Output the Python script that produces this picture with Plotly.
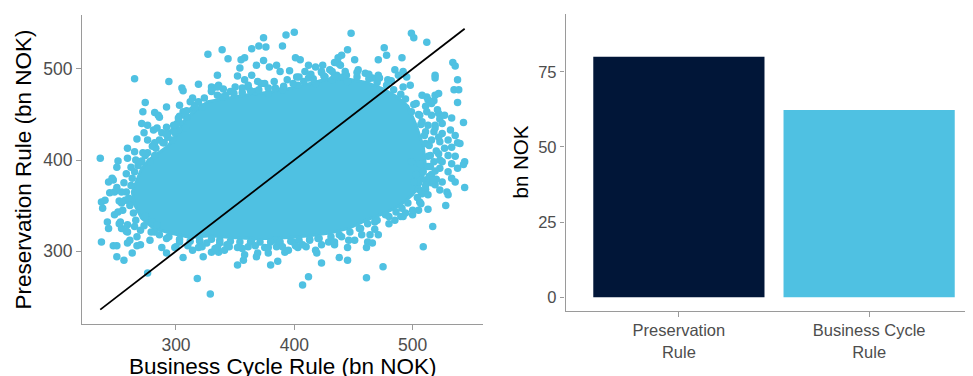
import plotly.graph_objects as go

# ---- Left panel: simulated fund values (bn NOK) ----
# individual points visible outside / at the edge of the dense cloud
business_cycle = [
236, 251, 265, 294, 305, 306, 319, 327, 339, 344, 364, 370, 376, 374, 390, 393, 400, 355, 358, 368,
374, 401, 405, 379, 385, 388, 396, 402, 412, 418, 424, 437, 440, 434, 437, 439, 352, 354, 335, 336,
364, 358, 361, 369, 375, 346, 356, 367, 378, 390, 403, 418, 432, 445, 339, 412, 426, 436, 441, 409,
423, 430,
448, 445, 451, 471, 476, 478, 491, 499, 501, 512, 519, 519, 534, 536, 538, 535, 539, 538, 543, 538,
533, 544, 466, 471, 479, 485, 488, 492, 495, 460, 454, 498, 512, 519,
508, 513, 522, 516, 511, 503, 499, 506, 512, 516, 522, 527, 533, 525, 519, 513, 508, 511, 518, 525,
532, 536, 530, 523, 516, 511, 527, 540, 530, 522, 515, 536, 525, 518, 533,
544, 543, 538, 533, 536, 529, 530, 528, 517, 509, 513, 506, 505, 511, 519, 523, 525, 516, 505, 500,
494, 485, 477, 468, 471, 464, 462, 466, 461, 451, 445, 445, 475, 461, 456, 499, 506, 513, 523, 530,
509, 503, 516, 520, 501, 511, 508,
407, 412, 423, 438, 380, 386, 352, 357, 358, 368, 369, 375, 378, 392, 395, 403, 407, 419, 418, 429,
434, 440, 336, 341, 343, 337, 352, 361, 364, 385, 384, 399, 413, 420,
237, 247, 250, 250, 256, 259, 263, 267, 270, 276, 267, 278, 288, 292, 299, 306, 318, 329, 314, 319,
323, 330, 335, 242, 243, 238, 237, 240, 244, 248, 247, 246, 243, 250, 254, 257, 261, 251, 253, 254,
259, 259, 265, 270, 261, 274, 280, 284, 282, 292, 303, 320, 326,
274, 272, 292, 282, 285, 286, 303, 306, 314, 312, 271, 276, 273, 276, 267, 259, 265, 259, 281, 284,
288, 292, 293, 282, 289, 297, 299, 276, 282, 271, 278, 303, 308, 302, 322, 314, 309, 330, 330, 331,
335,
# ragged edge of the solid core
263, 268, 274, 283, 290, 298, 303, 316, 324, 335, 349, 363, 378, 391, 408, 425, 444, 463, 478, 490,
501, 507, 514, 515, 511, 504, 491, 480, 462, 447, 431, 413, 397, 380, 363, 346, 330, 312, 294, 279,
266, 261, 258,
265, 271, 293, 301, 309, 319, 342, 356, 370, 384, 399, 416, 434, 453, 470, 484, 494, 505, 510, 513,
514, 507, 496, 486, 470, 455, 438, 421, 404, 388, 371, 354, 337, 320, 303, 286, 273, 264, 260, 262,
# second, looser band around the core
330, 340, 350, 361, 372, 383, 394, 404, 414, 423, 432, 443, 453, 463, 472, 482, 492,
518, 521, 523, 519, 522, 520, 523, 519, 517, 513, 507, 500, 492,
300, 310, 322, 333, 345, 356, 367, 378, 390, 401, 410, 423, 434, 446, 457, 468, 480, 490,
266, 272, 280, 286, 292, 298, 302, 308, 316,
255, 252, 254, 256, 258, 262, 250, 248, 252, 258,
]
preservation = [
402, 399, 489, 486, 479, 476, 483, 516, 521, 511, 522, 525, 524, 534, 525, 537, 540, 510, 512, 504,
509, 512, 510, 502, 504, 497, 498, 491, 504, 502, 504, 512, 515, 507, 506, 504, 492, 501, 493, 482,
493, 488, 480, 486, 484, 475, 479, 475, 473, 477, 482, 484, 488, 486, 469, 490, 491, 493, 491, 497,
497, 499,
539, 521, 510, 510, 523, 515, 512, 539, 534, 529, 493, 490, 507, 503, 488, 477, 477, 463, 441, 419,
414, 398, 490, 493, 488, 499, 493, 497, 491, 495, 499, 482, 469, 471,
471, 466, 473, 462, 459, 462, 453, 449, 453, 449, 451, 449, 446, 440, 438, 438, 442, 431, 431, 429,
433, 427, 422, 420, 422, 418, 413, 418, 405, 407, 405, 404, 398, 398, 396,
370, 395, 391, 380, 376, 365, 362, 350, 327, 305, 346, 354, 368, 368, 373, 367, 376, 375, 345, 340,
342, 334, 340, 332, 318, 318, 310, 309, 304, 312, 304, 290, 283, 271, 325, 398, 396, 393, 391, 387,
387, 384, 384, 379, 376, 378, 363,
263, 272, 287, 293, 285, 289, 285, 290, 296, 294, 298, 304, 298, 299, 301, 304, 307, 298, 301, 310,
307, 316, 299, 301, 307, 309, 304, 305, 312, 305, 312, 310, 312, 314,
310, 306, 306, 294, 290, 309, 298, 306, 307, 276, 316, 312, 304, 298, 304, 293, 270, 253, 301, 304,
294, 299, 304, 332, 325, 347, 354, 356, 364, 365, 378, 380, 376, 392, 353, 356, 354, 343, 332, 325,
321, 329, 327, 323, 312, 338, 332, 329, 321, 314, 310, 311, 309,
463, 453, 458, 452, 449, 447, 460, 453, 468, 464, 440, 438, 430, 422, 423, 413, 409, 402, 433, 435,
430, 436, 430, 419, 419, 422, 430, 408, 405, 398, 398, 441, 435, 433, 458, 455, 447, 480, 475, 479,
480,
380, 394, 405, 413, 419, 432, 448, 460, 468, 471, 473, 476, 479, 481, 486, 492, 493, 489, 482, 472,
461, 439, 416, 393, 372, 359, 347, 338, 330, 321, 316, 313, 311, 310, 310, 311, 313, 311, 316, 321,
334, 350, 365,
387, 399, 425, 440, 454, 464, 471, 474, 477, 479, 484, 489, 492, 491, 485, 477, 467, 450, 427, 404,
382, 366, 353, 343, 334, 325, 318, 314, 312, 310, 310, 310, 312, 312, 313, 318, 328, 342, 358, 372,
476, 478, 480, 482, 484, 486, 488, 491, 494, 496, 497, 497, 496, 494, 490, 487, 480,
465, 455, 445, 435, 425, 410, 400, 388, 378, 362, 352, 345, 338,
305, 306, 305, 303, 305, 303, 306, 304, 305, 306, 305, 307, 310, 312, 318, 324, 330, 338,
400, 408, 415, 422, 428, 438, 446, 452, 458,
345, 355, 365, 375, 385, 392, 370, 340, 330, 322,
]
# outline of the solid, fully overplotted core of the cloud
core_business_cycle = [267, 271, 278, 287, 293, 301, 308, 318, 327, 336, 349, 363, 377, 391, 408, 425, 444, 461,
                       475, 487, 496, 503, 509, 511, 507, 500, 489, 477, 461, 446, 430, 413, 396, 380, 363, 346,
                       329, 312, 295, 281, 271, 265, 263]
core_preservation = [378, 391, 401, 409, 415, 429, 445, 456, 464, 466, 469, 472, 474, 477, 482, 488, 489, 485,
                     478, 469, 459, 438, 415, 393, 374, 362, 350, 342, 334, 325, 320, 317, 315, 314, 314, 315,
                     317, 315, 320, 325, 336, 351, 365]
xy_ticks = [300, 400, 500]

# ---- Right panel ----
rules = ["Preservation<br>Rule", "Business Cycle<br>Rule"]
rule_values = [80.0, 62.3]
bar_ticks = [0, 25, 50, 75]

BLUE = "#4FC1E2"
NAVY = "#011638"
AXIS = "#9A9A9A"
TICKTXT = "#4D4D4D"
FONT = "Liberation Sans, Arial, sans-serif"

# the page body adds an 8px margin, so the figure is 8px smaller than the window
W, H, OFF = 965, 368, 8
def px(x):
    return (x - OFF) / W
def py(y):
    return 1 - (y - OFF) / H

fig = go.Figure()
fig.add_trace(go.Scatter(
    x=core_business_cycle + core_business_cycle[:1], y=core_preservation + core_preservation[:1],
    fill="toself", fillcolor=BLUE, mode="lines", line=dict(color=BLUE, width=3),
    hoverinfo="skip", xaxis="x", yaxis="y"))
fig.add_trace(go.Scatter(
    x=business_cycle, y=preservation, mode="markers",
    marker=dict(color=BLUE, size=7.5, line=dict(width=0)), xaxis="x", yaxis="y"))
lo, hi = min(business_cycle), max(business_cycle)
fig.add_trace(go.Scatter(x=[lo, hi], y=[lo, hi], mode="lines",
                         line=dict(color="black", width=1.8), xaxis="x", yaxis="y"))

fig.add_trace(go.Bar(x=[1, 2], y=rule_values, width=0.9,
                     marker=dict(color=[NAVY, BLUE], line=dict(width=0)),
                     xaxis="x2", yaxis="y2"))

common = dict(showgrid=False, zeroline=False, showline=True, linecolor=AXIS, linewidth=1.3,
              ticks="outside", ticklen=4.5, tickwidth=1.2, tickcolor=AXIS)

fig.update_layout(
    width=W, height=H, margin=dict(l=0, r=0, t=0, b=0),
    showlegend=False, plot_bgcolor="white", paper_bgcolor="white",
    font=dict(family=FONT),
    xaxis=dict(domain=[px(81.7), px(483)], range=[220.3, 559.5], tickvals=xy_ticks,
               tickfont=dict(size=17.5, color=TICKTXT, family=FONT), **common),
    yaxis=dict(domain=[py(324), py(15)], range=[220.2, 559], tickvals=xy_ticks,
               tickfont=dict(size=17.5, color=TICKTXT, family=FONT), **common),
    xaxis2=dict(domain=[px(565.5), 1.0], range=[0.404, 2.546], tickvals=[1, 2], ticktext=rules,
                tickfont=dict(size=16.5, color=TICKTXT, family=FONT), anchor="y2", **common),
    yaxis2=dict(domain=[py(311), py(14)], range=[-4.55, 94.2], tickvals=bar_ticks,
                tickfont=dict(size=16.5, color=TICKTXT, family=FONT), anchor="x2", **common),
    annotations=[
        dict(text="Preservation Rule (bn NOK)", xref="paper", yref="paper", x=px(23), y=py(169.5),
             textangle=-90, showarrow=False, xanchor="center", yanchor="middle",
             font=dict(size=22.5, color="black", family=FONT)),
        dict(text="Business Cycle Rule (bn NOK)", xref="paper", yref="paper", x=px(283), y=py(366),
             showarrow=False, xanchor="center", yanchor="middle",
             font=dict(size=22.5, color="black", family=FONT)),
        dict(text="bn NOK", xref="paper", yref="paper", x=px(520), y=py(162.5),
             textangle=-90, showarrow=False, xanchor="center", yanchor="middle",
             font=dict(size=20.5, color="black", family=FONT)),
    ],
)
fig.write_html("out.html")
